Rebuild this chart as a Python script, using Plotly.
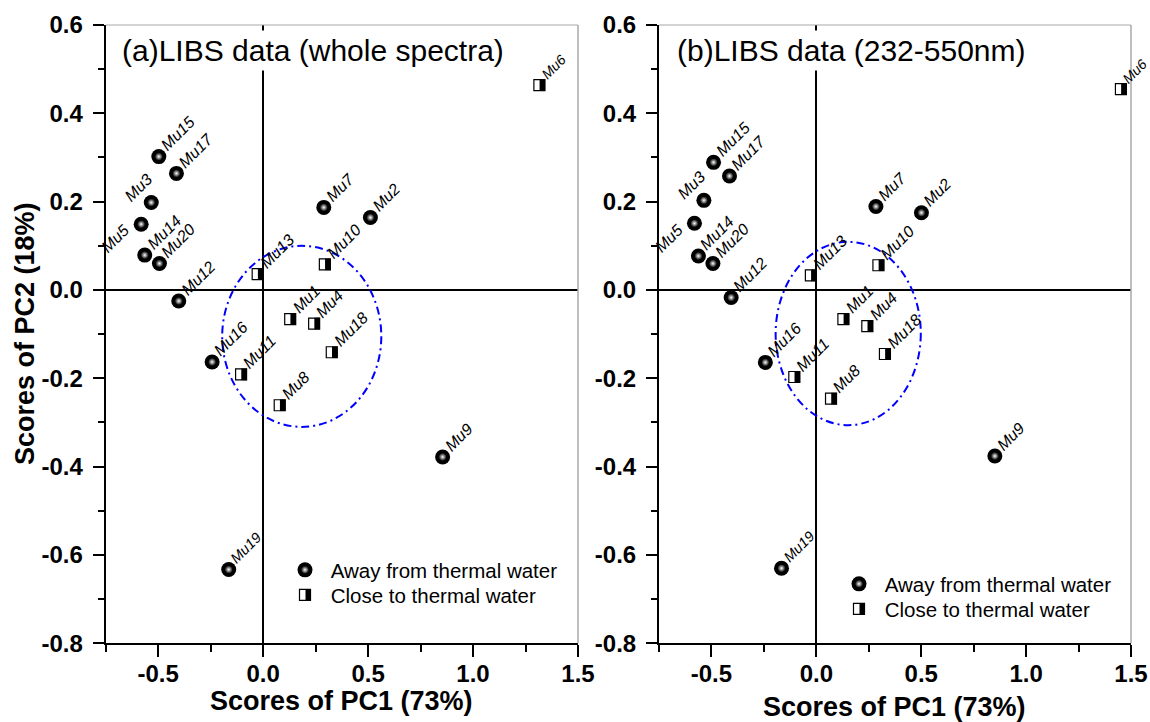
import plotly.graph_objects as go

# ---------------- data ----------------
labels = ['Mu1', 'Mu2', 'Mu3', 'Mu4', 'Mu5', 'Mu6', 'Mu7', 'Mu8', 'Mu9', 'Mu10',
          'Mu11', 'Mu12', 'Mu13', 'Mu14', 'Mu15', 'Mu16', 'Mu17', 'Mu18', 'Mu19', 'Mu20']
close = [True, False, False, True, False, True, False, True, False, True,
         True, False, True, False, False, False, False, True, False, False]

# (a) whole spectra
pc1_a = [0.129, 0.511, -0.533, 0.243, -0.581, 1.316, 0.289, 0.079, 0.855, 0.294,
         -0.105, -0.402, -0.026, -0.564, -0.497, -0.243, -0.413, 0.327, -0.164, -0.494]
pc2_a = [-0.066, 0.164, 0.198, -0.076, 0.149, 0.464, 0.187, -0.261, -0.378, 0.058,
         -0.191, -0.025, 0.036, 0.079, 0.302, -0.163, 0.264, -0.141, -0.633, 0.060]
# (b) 232-550 nm
pc1_b = [0.129, 0.501, -0.536, 0.243, -0.581, 1.452, 0.284, 0.070, 0.851, 0.296,
         -0.105, -0.406, -0.026, -0.562, -0.490, -0.243, -0.414, 0.327, -0.166, -0.493]
pc2_b = [-0.066, 0.175, 0.203, -0.082, 0.151, 0.455, 0.189, -0.246, -0.376, 0.056,
         -0.197, -0.017, 0.033, 0.077, 0.289, -0.164, 0.258, -0.145, -0.630, 0.060]

# ellipse bounds (x0, x1, y0, y1)
ellipse_a = (-0.195, 0.563, -0.310, 0.100)
ellipse_b = (-0.194, 0.498, -0.306, 0.109)

x_tick_vals = [-0.5, 0.0, 0.5, 1.0, 1.5]
x_tick_text = ['-0.5', '0.0', '0.5', '1.0', '1.5']
y_tick_vals = [-0.8, -0.6, -0.4, -0.2, 0.0, 0.2, 0.4, 0.6]
y_tick_text = ['-0.8', '-0.6', '-0.4', '-0.2', '0.0', '0.2', '0.4', '0.6']

legend_away = 'Away from thermal water'
legend_close = 'Close to thermal water'
titles = ['(a)LIBS data (whole spectra)', '(b)LIBS data (232-550nm)']
x_title = 'Scores of PC1 (73%)'
y_title = 'Scores of PC2 (18%)'

# ---------------- layout constants ----------------
W, H = 1150, 722
FONT = 'Liberation Sans, Arial, sans-serif'
XR = [-0.75, 1.5]
YR = [-0.8, 0.6]
dom_a = [105.7 / W, 578 / W]
dom_b = [659 / W, 1131 / W]
dom_y = [(H - 643.3) / H, (H - 25) / H]
SHIFT_PX = 3.0

# label placement overrides: (xanchor, yanchor, xshift, yshift)
default_pos = ('left', 'bottom', -4, 0)
label_pos = {'Mu3': ('right', 'bottom', 7, -5), 'Mu5': ('right', 'top', -6, 5)}
label_size = {'Mu6': 14, 'Mu19': 14.5}

fig = go.Figure()


def add_panel(px1, px2, xa, ya, xa_shift, leg_sphere, leg_hl, leg_square, leg_bar):
    ax = [x for x, c in zip(px1, close) if not c]
    ay = [y for y, c in zip(px2, close) if not c]
    cx = [x for x, c in zip(px1, close) if c]
    cy = [y for y, c in zip(px2, close) if c]
    fig.add_trace(go.Scatter(
        x=ax, y=ay, mode='markers', name='\u00a0' + legend_away,
        xaxis=xa, yaxis=ya, legend=leg_sphere,
        marker=dict(symbol='circle', size=15, color='black', line=dict(width=0))))
    fig.add_trace(go.Scatter(
        x=ax, y=ay, mode='markers', name=' ',
        xaxis=xa, yaxis=ya, legend=leg_hl,
        marker=dict(symbol='circle', size=8, color='black',
                    gradient=dict(type='radial', color='white'),
                    line=dict(width=0))))
    fig.add_trace(go.Scatter(
        x=cx, y=cy, mode='markers', name='\u00a0' + legend_close,
        xaxis=xa, yaxis=ya, legend=leg_square,
        marker=dict(symbol='square', size=11, color='white',
                    line=dict(color='black', width=1.2))))
    fig.add_trace(go.Scatter(
        x=cx, y=cy, mode='markers', name=' ',
        xaxis=xa_shift, yaxis=ya, legend=leg_bar,
        marker=dict(symbol='line-ns', size=8.3,
                    line=dict(color='black', width=5.6))))
    for lab, x, y in zip(labels, px1, px2):
        xan, yan, xs, ys = label_pos.get(lab, default_pos)
        fig.add_annotation(x=x, y=y, xref=xa, yref=ya, text='<i>' + lab + '</i>',
                           textangle=-45, showarrow=False, xanchor=xan, yanchor=yan,
                           xshift=xs, yshift=ys,
                           font=dict(family=FONT, size=label_size.get(lab, 16),
                                     color='black'))


add_panel(pc1_a, pc2_a, 'x', 'y', 'x3', 'legend', 'legend7', 'legend3', 'legend5')
add_panel(pc1_b, pc2_b, 'x2', 'y2', 'x4', 'legend2', 'legend8', 'legend4', 'legend6')

# ellipses
for (x0, x1, y0, y1), xr, yr in [(ellipse_a, 'x', 'y'), (ellipse_b, 'x2', 'y2')]:
    fig.add_shape(type='circle', xref=xr, yref=yr, x0=x0, x1=x1, y0=y0, y1=y1,
                  line=dict(color='#0000ff', width=2, dash='8px,4px,2px,4px'))

# gray top/right frame
for xr, yr in [('x', 'y'), ('x2', 'y2')]:
    fig.add_shape(type='line', xref=xr + ' domain', yref=yr + ' domain',
                  x0=1, x1=1, y0=0, y1=1, line=dict(color='#a8a8a8', width=1.5))
    fig.add_shape(type='line', xref=xr + ' domain', yref=yr + ' domain',
                  x0=0, x1=1, y0=1, y1=1, line=dict(color='#a8a8a8', width=1))

tickfont = dict(family=FONT, size=24, color='black', weight='bold')


def xaxis(dom, anchor):
    return dict(domain=dom, range=XR, anchor=anchor, showgrid=False,
                zeroline=True, zerolinecolor='black', zerolinewidth=2,
                showline=True, linecolor='black', linewidth=2,
                tickmode='array', tickvals=x_tick_vals, ticktext=x_tick_text,
                ticks='outside', ticklen=12, tickwidth=2, tickcolor='black',
                ticklabelstandoff=-4,
                minor=dict(tickmode='linear', tick0=0, dtick=0.25, ticks='outside',
                           ticklen=7, tickwidth=2, tickcolor='black'),
                tickfont=tickfont, automargin=False, fixedrange=True)


def yaxis(anchor):
    return dict(domain=dom_y, range=YR, anchor=anchor, showgrid=False,
                zeroline=True, zerolinecolor='black', zerolinewidth=2,
                showline=True, linecolor='black', linewidth=2,
                tickmode='array', tickvals=y_tick_vals, ticktext=y_tick_text,
                ticks='outside', ticklen=11, tickwidth=2, tickcolor='black',
                ticklabelstandoff=5,
                minor=dict(tickmode='linear', tick0=0, dtick=0.1, ticks='outside',
                           ticklen=6, tickwidth=2, tickcolor='black'),
                tickfont=tickfont, automargin=False, fixedrange=True)


def shift_axis(over, dom):
    d = SHIFT_PX * (XR[1] - XR[0]) / ((dom[1] - dom[0]) * W)
    return dict(overlaying=over, range=[XR[0] - d, XR[1] - d], visible=False,
                showgrid=False, zeroline=False, anchor='y' if over == 'x' else 'y2',
                domain=dom, fixedrange=True)


def leg(xpx, ytop):
    return dict(x=xpx / W, y=(H - ytop) / H, xanchor='left', yanchor='top',
                font=dict(family=FONT, size=20.5, color='black'),
                bgcolor='rgba(0,0,0,0)', itemwidth=30, borderwidth=0)


fig.update_layout(
    width=W, height=H, margin=dict(l=0, r=0, t=0, b=0),
    paper_bgcolor='white', plot_bgcolor='white',
    xaxis=xaxis(dom_a, 'y'), yaxis=yaxis('x'),
    xaxis2=xaxis(dom_b, 'y2'), yaxis2=yaxis('x2'),
    xaxis3=shift_axis('x', dom_a), xaxis4=shift_axis('x2', dom_b),
    legend=leg(285, 550), legend7=leg(285, 550),
    legend3=leg(285, 575), legend5=leg(288, 575),
    legend2=leg(839, 564), legend8=leg(839, 564),
    legend4=leg(839, 589), legend6=leg(842, 589),
    showlegend=True,
)

# panel titles (white box hides the zero line behind them)
for t, xpx in zip(titles, [118, 673]):
    fig.add_annotation(x=xpx / W, y=(H - 51) / H, xref='paper', yref='paper',
                       text=t, showarrow=False, xanchor='left', yanchor='middle',
                       bgcolor='white', borderpad=3,
                       font=dict(family=FONT, size=30, color='black'))

# axis titles
for cx, cy in [((105.7 + 578) / 2, 701), ((659 + 1131) / 2, 707)]:
    fig.add_annotation(x=cx / W, y=(H - cy) / H, xref='paper', yref='paper',
                       text='<b>' + x_title + '</b>', showarrow=False,
                       xanchor='center', yanchor='middle',
                       font=dict(family=FONT, size=27, color='black'))
fig.add_annotation(x=25 / W, y=(H - 334) / H, xref='paper', yref='paper',
                   text='<b>' + y_title + '</b>', showarrow=False, textangle=-90,
                   xanchor='center', yanchor='middle',
                   font=dict(family=FONT, size=27, color='black'))

fig.write_html('out.html', config={'displayModeBar': False},
               post_script="document.body.style.margin='0px';")
